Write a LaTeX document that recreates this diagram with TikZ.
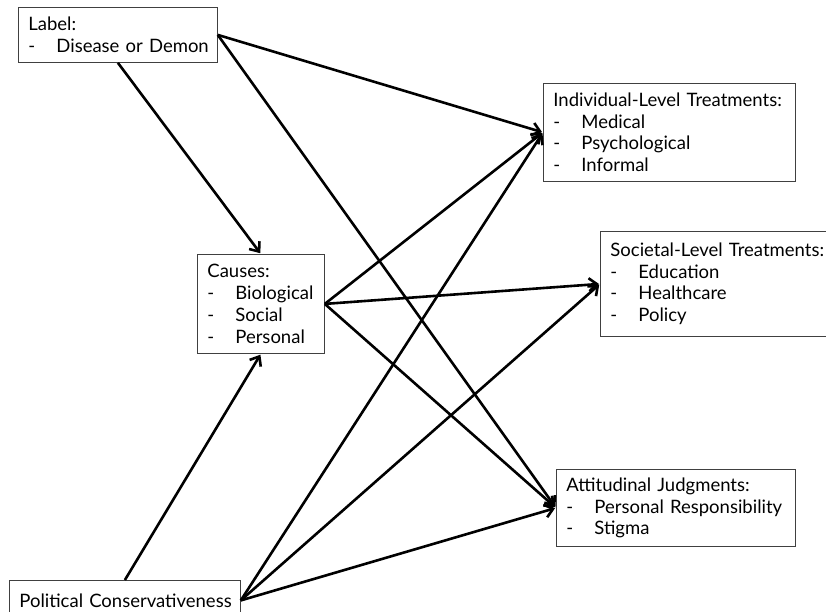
\documentclass[tikz,border=0pt]{standalone}
\usepackage{fontspec}
\setmainfont{Lato}
\usetikzlibrary{arrows.meta}
\newcommand\dashitem[1]{\mbox{\makebox[28pt][l]{-}#1}}
\begin{document}
\begin{tikzpicture}[x=1pt,y=-1pt,
  box/.style={draw=black!75, line width=0.8pt, anchor=north west, align=left,
    inner xsep=10pt, inner ysep=0pt, font=\fontsize{18.5}{21.7}\selectfont},
  conn/.style={line width=2.6pt, -{Straight Barb[length=8pt,width=13pt,line width=2.6pt]}, shorten >=1pt}]
\useasboundingbox (0,0) rectangle (826,611);
\node[box, text width=179pt, minimum height=55pt] (lab) at (18,7)
  {\mbox{Label:}\\\dashitem{Disease or Demon}};
\node[box, text width=107pt, minimum height=99pt] (cau) at (197,254)
  {\mbox{Causes:}\\\dashitem{Biological}\\\dashitem{Social}\\\dashitem{Personal}};
\node[box, text width=232pt, minimum height=98pt] (ind) at (543,83)
  {\mbox{Individual-Level Treatments:}\\\dashitem{Medical}\\\dashitem{Psychological}\\\dashitem{Informal}};
\node[box, text width=240pt, minimum height=105pt] (soc) at (600,231)
  {\mbox{Societal-Level Treatments:}\\\dashitem{Education}\\\dashitem{Healthcare}\\\dashitem{Policy}};
\node[box, text width=219pt, minimum height=77pt] (att) at (556,469)
  {\mbox{Attitudinal Judgments:}\\\dashitem{Personal Responsibility}\\\dashitem{Stigma}};
\node[box, text width=211pt, minimum height=40pt] (pol) at (9,580)
  {\mbox{Political Conservativeness}};
\draw[conn] (lab.east) -- (ind.west);
\draw[conn] (lab.east) -- (att.west);
\draw[conn] (lab.south) -- (cau.north);
\draw[conn] (cau.east) -- (ind.west);
\draw[conn] (cau.east) -- (soc.west);
\draw[conn] (cau.east) -- (att.west);
\draw[conn] (pol.north) -- (cau.south);
\draw[conn] (pol.east) -- (ind.west);
\draw[conn] (pol.east) -- (soc.west);
\draw[conn] (pol.east) -- (att.west);
\end{tikzpicture}
\end{document}
